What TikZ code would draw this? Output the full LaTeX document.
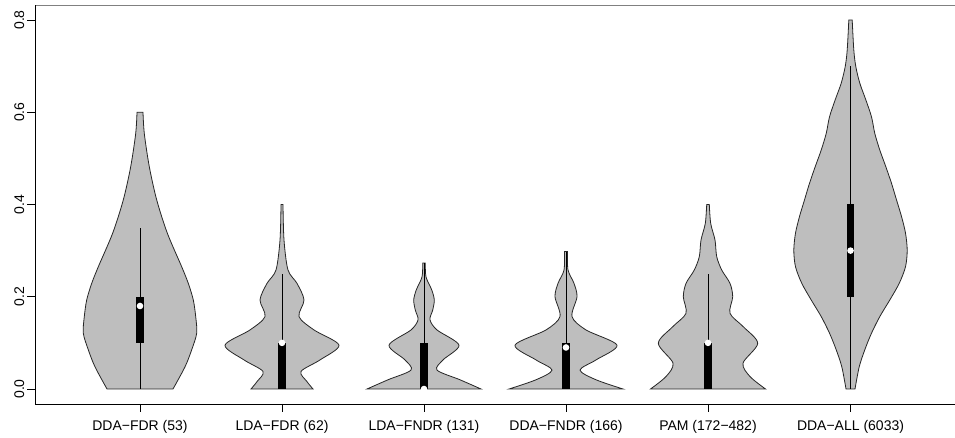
\documentclass[tikz,border=0pt]{standalone}
\usepackage{fontspec}
\setmainfont{Liberation Sans}
\definecolor{violingray}{HTML}{BEBEBE}

\begin{document}
\begin{tikzpicture}[x=1pt,y=1pt,
        violin/.style={fill=violingray,draw=black!85,line width=0.8pt},
        whisker/.style={black,line width=0.8pt},
        iqr/.style={fill=black},
        median/.style={fill=white},
        axis/.style={black,line width=0.8pt},
        catlabel/.style={font=\fontsize{14}{16}\selectfont,anchor=base},
        ticklabel/.style={font=\fontsize{14}{16}\selectfont,rotate=90,anchor=base}]
    \useasboundingbox (0,0) rectangle (955,438);

    % frame
    \draw[gray,line width=1.3pt] (35,432.5) -- (955,432.5);
    \draw[axis] (35,432.5) -- (35,34) -- (955,34);

    \begin{scope}[yshift=49pt,y=461.25pt]
        % DDA-FDR
        \draw[violin] plot[smooth] coordinates {(107,0) (95,0.048) (88.3,0.085) (83.3,0.121) (84.3,0.157) (86.7,0.193) (91.7,0.229) (98.3,0.265) (112.7,0.338) (123.3,0.41) (130.7,0.482) (135.7,0.554) (137,0.6)}
            -- plot[smooth] coordinates {(143,0.6) (144.3,0.554) (149.3,0.482) (156.7,0.41) (167.3,0.338) (181.7,0.265) (188.3,0.229) (193.3,0.193) (195.7,0.157) (196.7,0.121) (191.7,0.085) (185,0.048) (173,0)} -- cycle;
        \draw[whisker] (140,0) -- (140,0.35);
        \fill[iqr] (136.3,0.1) rectangle (143.7,0.2);
        \fill[median] (140,0.18) circle (3.3pt);

        % LDA-FDR
        \draw[violin] plot[smooth] coordinates {(251,0) (257,0.016) (263,0.038) (244,0.063) (225,0.095) (250,0.128) (265,0.157) (260,0.193) (267,0.229) (276,0.258) (280,0.323) (281,0.4)}
            -- plot[smooth] coordinates {(283,0.4) (284,0.323) (288,0.258) (297,0.229) (304,0.193) (299,0.157) (314,0.128) (339,0.095) (320,0.063) (301,0.038) (307,0.016) (313,0)} -- cycle;
        \draw[whisker] (282,0) -- (282,0.25);
        \fill[iqr] (278.3,0) rectangle (285.7,0.1);
        \fill[median] (282,0.1) circle (3.3pt);

        % LDA-FNDR
        \draw[violin] plot[smooth] coordinates {(367,0) (388,0.02) (411,0.041) (405,0.063) (389,0.095) (411,0.128) (418,0.15) (415.3,0.171) (413.7,0.193) (416.3,0.215) (422,0.243) (422.7,0.273)}
            -- plot[smooth] coordinates {(425.3,0.273) (426,0.243) (431.7,0.215) (434.3,0.193) (432.7,0.171) (430,0.15) (437,0.128) (459,0.095) (443,0.063) (437,0.041) (460,0.02) (481,0)} -- cycle;
        \draw[whisker] (424,0) -- (424,0.273);
        \fill[iqr] (420.3,0) rectangle (427.7,0.1);
        \fill[median] (424,0) circle (3.3pt);

        % DDA-FNDR
        \draw[violin] plot[smooth] coordinates {(509,0) (536,0.02) (552,0.041) (536,0.063) (515,0.095) (546,0.128) (560,0.157) (555,0.2) (558,0.229) (564,0.258) (564.5,0.298)}
            -- plot[smooth] coordinates {(567.5,0.298) (568,0.258) (574,0.229) (577,0.2) (572,0.157) (586,0.128) (617,0.095) (596,0.063) (580,0.041) (596,0.02) (623,0)} -- cycle;
        \draw[whisker] (566,0) -- (566,0.298);
        \fill[iqr] (562.3,0) rectangle (569.7,0.1);
        \fill[median] (566,0.09) circle (3.3pt);

        % PAM
        \draw[violin] plot[smooth] coordinates {(650.5,0) (666,0.027) (673,0.056) (658.3,0.099) (672.7,0.135) (686,0.164) (683.3,0.2) (686,0.229) (694.3,0.258) (699.3,0.287) (701,0.323) (705.3,0.359) (706.7,0.4)}
            -- plot[smooth] coordinates {(709.3,0.4) (710.7,0.359) (715,0.323) (716.7,0.287) (721.7,0.258) (730,0.229) (732.7,0.2) (730,0.164) (743.3,0.135) (757.7,0.099) (743,0.056) (750,0.027) (765.5,0)} -- cycle;
        \draw[whisker] (708,0) -- (708,0.25);
        \fill[iqr] (704.3,0) rectangle (711.7,0.1);
        \fill[median] (708,0.1) circle (3.3pt);

        % DDA-ALL
        \draw[violin] plot[smooth] coordinates {(846,0) (841.8,0.048) (836.2,0.085) (829.5,0.121) (821.2,0.157) (811.2,0.193) (801.8,0.229) (795.5,0.265) (793.8,0.301) (795.5,0.338) (799.5,0.374) (804.5,0.41) (809.5,0.446) (815.2,0.482) (821.2,0.518) (826.2,0.554) (829.5,0.59) (835.2,0.627) (841.2,0.663) (845.2,0.699) (847.2,0.735) (848.8,0.8)}
            -- plot[smooth] coordinates {(852.2,0.8) (853.8,0.735) (855.8,0.699) (859.8,0.663) (865.8,0.627) (871.5,0.59) (874.8,0.554) (879.8,0.518) (885.8,0.482) (891.5,0.446) (896.5,0.41) (901.5,0.374) (905.5,0.338) (907.2,0.301) (905.5,0.265) (899.2,0.229) (889.8,0.193) (879.8,0.157) (871.5,0.121) (864.8,0.085) (859.2,0.048) (855,0)} -- cycle;
        \draw[whisker] (850.5,0) -- (850.5,0.7);
        \fill[iqr] (846.8,0.2) rectangle (854.2,0.4);
        \fill[median] (850.5,0.3) circle (3.3pt);

        % y axis ticks
        \foreach \v [count=\i] in {0.0,0.2,0.4,0.6,0.8} {
            \draw[axis] (27,\v) -- (35,\v);
            \node[ticklabel] (ytick\i) at (24,\v) {\v};
        }
    \end{scope}

    % x axis ticks and groups
    \foreach \c/\t [count=\i] in {140/DDA−FDR (53),282/LDA−FDR (62),424/LDA−FNDR (131),566/DDA−FNDR (166),708/PAM (172−482),850.5/DDA−ALL (6033)} {
        \draw[axis] (\c,34) -- (\c,26);
        \node[catlabel] (group\i) at (\c,7) {\t};
    }
\end{tikzpicture}
\end{document}
